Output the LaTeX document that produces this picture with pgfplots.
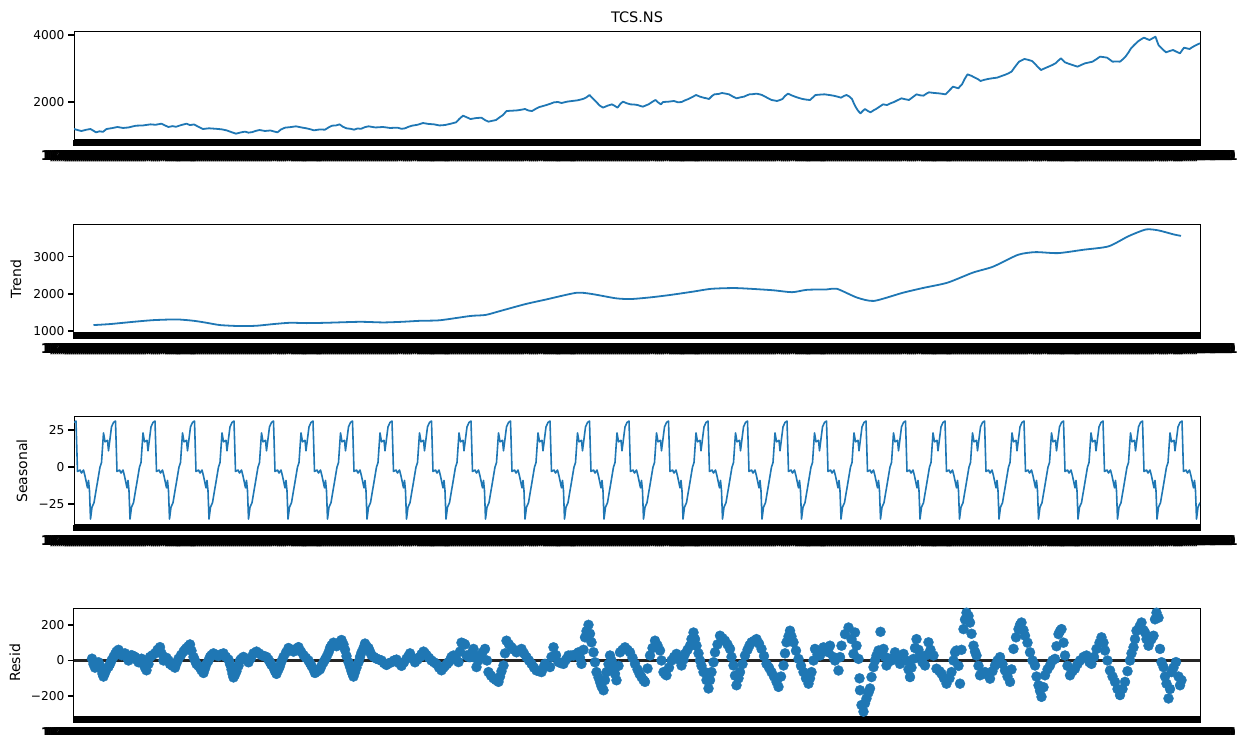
\documentclass[border=0pt]{standalone}
\usepackage{fontspec}
\setmainfont{DejaVu Sans}
\usepackage{pgfplots}
\pgfplotsset{compat=1.18}
\definecolor{mplblue}{HTML}{1F77B4}
\pgfplotsset{
  panel/.style={
    scale only axis, width=1126pt, height=108pt, anchor=south west,
    xmin=0, xmax=2252,
    axis line style={line width=1pt, black},
    tick align=outside, xtick pos=bottom, ytick pos=left,
    xtick={0,4,...,2252},
    major tick length=6pt, minor tick length=6pt,
    every tick/.style={black, line width=1.4pt},
    tick label style={font=\fontsize{12.2}{14}\selectfont},
    xticklabel={\pgfmathtruncatemacro{\mo}{1+mod(\tick/21,12)}\pgfmathtruncatemacro{\yr}{2012+\tick/250}\mo/1/\yr},
    xticklabel style={inner sep=1pt, yshift=-3pt, text=black, font=\fontsize{13.5}{15}\selectfont\bfseries},
    ylabel style={font=\fontsize{14}{16}\selectfont, anchor=center},
    clip=true,
  },
  mplline/.style={mplblue, line width=1.8pt, line join=round, mark=none},
}
\begin{document}
\begin{tikzpicture}
\path[use as bounding box] (0,0) rectangle (1240pt,735pt);

% ---------------- Observed ----------------
\begin{axis}[panel, at={(74pt,595pt)}, ymin=866, ymax=4090,
  ytick={2000,4000}, yticklabels={2000,4000},
  title={TCS.NS}, title style={font=\fontsize{14.5}{16}\selectfont}]
\addplot[mplline] coordinates {
(0,1194)(8,1160)(15,1134)(24,1170)(33,1194)(38,1150)(44,1095)(51,1125)(58,1110)(65,1194)(76,1220)(87,1254)(98,1225)(109,1240)(117,1270)(124,1293)(138,1300)(153,1333)(163,1320)(175,1353)(182,1300)(189,1254)(197,1280)(204,1260)(214,1310)(225,1353)(232,1310)(240,1330)(249,1260)(258,1194)(270,1215)(284,1200)(295,1185)(305,1154)(315,1100)(324,1054)(333,1090)(342,1115)(349,1085)(356,1100)(364,1140)(371,1164)(382,1135)(393,1150)(400,1120)(407,1095)(414,1180)(422,1234)(433,1250)(444,1274)(455,1240)(465,1214)(473,1185)(480,1154)(491,1180)(502,1174)(509,1240)(516,1293)(524,1300)(531,1333)(538,1260)(545,1214)(553,1200)(560,1174)(567,1210)(574,1200)(582,1250)(589,1274)(603,1240)(618,1254)(632,1225)(647,1234)(655,1200)(662,1214)(669,1260)(676,1293)(687,1320)(698,1373)(709,1345)(720,1333)(731,1300)(742,1313)(753,1350)(764,1393)(771,1500)(778,1592)(786,1540)(793,1492)(804,1520)(815,1532)(822,1460)(829,1413)(837,1440)(844,1462)(851,1540)(858,1612)(865,1731)(876,1740)(887,1751)(895,1770)(902,1791)(909,1745)(916,1731)(924,1800)(931,1851)(938,1880)(945,1910)(953,1950)(960,1990)(968,2000)(975,1970)(986,2010)(996,2030)(1007,2050)(1018,2090)(1025,2140)(1031,2209)(1038,2100)(1044,2010)(1051,1900)(1058,1831)(1067,1890)(1076,1930)(1082,1880)(1087,1831)(1093,1950)(1098,2010)(1106,1960)(1113,1930)(1120,1925)(1127,1910)(1133,1880)(1138,1861)(1144,1900)(1149,1930)(1156,2000)(1163,2060)(1168,1990)(1174,1930)(1178,2000)(1189,2010)(1200,2030)(1208,1990)(1215,2000)(1222,2050)(1229,2090)(1237,2150)(1244,2209)(1252,2160)(1259,2129)(1265,2110)(1270,2090)(1276,2180)(1281,2229)(1289,2240)(1296,2269)(1303,2250)(1310,2229)(1318,2160)(1325,2109)(1333,2140)(1340,2160)(1346,2200)(1351,2229)(1358,2235)(1365,2249)(1371,2230)(1376,2209)(1386,2130)(1395,2060)(1401,2045)(1406,2030)(1412,2060)(1417,2090)(1422,2180)(1428,2249)(1435,2200)(1442,2160)(1450,2120)(1457,2090)(1465,2070)(1472,2060)(1478,2140)(1483,2209)(1492,2220)(1501,2229)(1510,2210)(1519,2189)(1527,2160)(1534,2129)(1540,2180)(1545,2209)(1551,2160)(1556,2090)(1560,1950)(1563,1861)(1568,1740)(1573,1662)(1578,1740)(1582,1791)(1588,1730)(1593,1692)(1599,1750)(1604,1791)(1611,1860)(1618,1930)(1626,1910)(1633,1960)(1640,2000)(1648,2060)(1655,2109)(1663,2080)(1670,2060)(1678,2150)(1685,2229)(1692,2200)(1699,2189)(1705,2250)(1710,2289)(1720,2270)(1729,2259)(1736,2245)(1743,2229)(1751,2350)(1758,2458)(1764,2430)(1769,2408)(1772,2470)(1776,2527)(1781,2680)(1787,2826)(1795,2780)(1802,2726)(1808,2680)(1813,2627)(1820,2660)(1828,2687)(1837,2710)(1846,2726)(1854,2770)(1861,2806)(1868,2850)(1875,2905)(1882,3050)(1890,3204)(1896,3250)(1901,3284)(1908,3260)(1916,3224)(1922,3140)(1927,3055)(1931,3000)(1934,2955)(1942,3010)(1949,3055)(1956,3100)(1963,3155)(1969,3240)(1974,3304)(1978,3240)(1982,3184)(1988,3150)(1993,3124)(2000,3090)(2007,3055)(2015,3110)(2022,3155)(2030,3180)(2037,3204)(2045,3280)(2052,3354)(2059,3340)(2066,3324)(2072,3260)(2077,3204)(2085,3210)(2092,3204)(2098,3280)(2103,3354)(2109,3480)(2114,3602)(2121,3710)(2129,3821)(2135,3880)(2140,3920)(2146,3880)(2151,3851)(2157,3900)(2163,3950)(2166,3820)(2169,3701)(2176,3590)(2184,3483)(2191,3520)(2198,3552)(2205,3500)(2212,3453)(2216,3540)(2220,3622)(2226,3600)(2231,3582)(2237,3640)(2242,3682)(2247,3720)(2252,3751)
};
\end{axis}

% ---------------- Trend ----------------
\begin{axis}[panel, at={(74pt,402pt)}, ymin=947, ymax=3853,
  ytick={1000,2000,3000}, yticklabels={1000,2000,3000}, ylabel={Trend},
  ylabel style={at={(axis description cs:-0.0515,0.5)}}]
\addplot[mplline, smooth, tension=0.4] coordinates {
(39,1160)(72,1187)(119,1248)(159,1293)(205,1312)(239,1276)(265,1222)(292,1160)(332,1133)(365,1142)(399,1187)(432,1222)(465,1213)(505,1222)(572,1248)(619,1231)(659,1250)(692,1275)(732,1290)(793,1405)(823,1432)(853,1541)(903,1725)(943,1845)(1004,2027)(1034,2000)(1084,1880)(1114,1861)(1154,1907)(1194,1973)(1240,2064)(1275,2136)(1325,2155)(1396,2099)(1436,2045)(1466,2109)(1506,2120)(1526,2136)(1566,1900)(1600,1810)(1657,2027)(1697,2155)(1747,2301)(1798,2573)(1838,2731)(1888,3051)(1923,3123)(1968,3096)(2019,3187)(2069,3278)(2109,3552)(2144,3733)(2169,3707)(2200,3597)(2214,3560)
};
\end{axis}

% ---------------- Seasonal ----------------
\begin{axis}[panel, at={(74pt,210pt)}, ymin=-39, ymax=33.7,
  ytick={-25,0,25}, yticklabels={−25,0,25}, ylabel={Seasonal},
  ylabel style={at={(axis description cs:-0.0462,0.5)}}]
\addplot[mplline, line width=1.6pt] coordinates {
(0,30)
(4,31)(7,-3)(12,-2)(15,-4)(19,-2)(22,-6)(27,-14)(29,-9)(31,-16)(33,-35)(36,-27)(40,-24)(52,0)(55,3)(59,23)(62,17)(67,18)(69,11)(75,27)(79,30)
(83,31)(86,-3)(91,-2)(94,-4)(98,-2)(101,-6)(106,-14)(108,-9)(110,-16)(112,-35)(115,-27)(119,-24)(131,0)(134,3)(138,23)(141,17)(146,18)(148,11)(154,27)(158,30)
(162,31)(165,-3)(170,-2)(173,-4)(177,-2)(180,-6)(185,-14)(187,-9)(189,-16)(191,-35)(194,-27)(198,-24)(210,0)(213,3)(217,23)(220,17)(225,18)(227,11)(233,27)(237,30)
(241,31)(244,-3)(249,-2)(252,-4)(256,-2)(259,-6)(264,-14)(266,-9)(268,-16)(270,-35)(273,-27)(277,-24)(289,0)(292,3)(296,23)(299,17)(304,18)(306,11)(312,27)(316,30)
(320,31)(323,-3)(328,-2)(331,-4)(335,-2)(338,-6)(343,-14)(345,-9)(347,-16)(349,-35)(352,-27)(356,-24)(368,0)(371,3)(375,23)(378,17)(383,18)(385,11)(391,27)(395,30)
(399,31)(402,-3)(407,-2)(410,-4)(414,-2)(417,-6)(422,-14)(424,-9)(426,-16)(428,-35)(431,-27)(435,-24)(447,0)(450,3)(454,23)(457,17)(462,18)(464,11)(470,27)(474,30)
(478,31)(481,-3)(486,-2)(489,-4)(493,-2)(496,-6)(501,-14)(503,-9)(505,-16)(507,-35)(510,-27)(514,-24)(526,0)(529,3)(533,23)(536,17)(541,18)(543,11)(549,27)(553,30)
(557,31)(560,-3)(565,-2)(568,-4)(572,-2)(575,-6)(580,-14)(582,-9)(584,-16)(586,-35)(589,-27)(593,-24)(605,0)(608,3)(612,23)(615,17)(620,18)(622,11)(628,27)(632,30)
(636,31)(639,-3)(644,-2)(647,-4)(651,-2)(654,-6)(659,-14)(661,-9)(663,-16)(665,-35)(668,-27)(672,-24)(684,0)(687,3)(691,23)(694,17)(699,18)(701,11)(707,27)(711,30)
(715,31)(718,-3)(723,-2)(726,-4)(730,-2)(733,-6)(738,-14)(740,-9)(742,-16)(744,-35)(747,-27)(751,-24)(763,0)(766,3)(770,23)(773,17)(778,18)(780,11)(786,27)(790,30)
(794,31)(797,-3)(802,-2)(805,-4)(809,-2)(812,-6)(817,-14)(819,-9)(821,-16)(823,-35)(826,-27)(830,-24)(842,0)(845,3)(849,23)(852,17)(857,18)(859,11)(865,27)(869,30)
(873,31)(876,-3)(881,-2)(884,-4)(888,-2)(891,-6)(896,-14)(898,-9)(900,-16)(902,-35)(905,-27)(909,-24)(921,0)(924,3)(928,23)(931,17)(936,18)(938,11)(944,27)(948,30)
(952,31)(955,-3)(960,-2)(963,-4)(967,-2)(970,-6)(975,-14)(977,-9)(979,-16)(981,-35)(984,-27)(988,-24)(1000,0)(1003,3)(1007,23)(1010,17)(1015,18)(1017,11)(1023,27)(1027,30)
(1031,31)(1034,-3)(1039,-2)(1042,-4)(1046,-2)(1049,-6)(1054,-14)(1056,-9)(1058,-16)(1060,-35)(1063,-27)(1067,-24)(1079,0)(1082,3)(1086,23)(1089,17)(1094,18)(1096,11)(1102,27)(1106,30)
(1110,31)(1113,-3)(1118,-2)(1121,-4)(1125,-2)(1128,-6)(1133,-14)(1135,-9)(1137,-16)(1139,-35)(1142,-27)(1146,-24)(1158,0)(1161,3)(1165,23)(1168,17)(1173,18)(1175,11)(1181,27)(1185,30)
(1189,31)(1192,-3)(1197,-2)(1200,-4)(1204,-2)(1207,-6)(1212,-14)(1214,-9)(1216,-16)(1218,-35)(1221,-27)(1225,-24)(1237,0)(1240,3)(1244,23)(1247,17)(1252,18)(1254,11)(1260,27)(1264,30)
(1268,31)(1271,-3)(1276,-2)(1279,-4)(1283,-2)(1286,-6)(1291,-14)(1293,-9)(1295,-16)(1297,-35)(1300,-27)(1304,-24)(1316,0)(1319,3)(1323,23)(1326,17)(1331,18)(1333,11)(1339,27)(1343,30)
(1347,31)(1350,-3)(1355,-2)(1358,-4)(1362,-2)(1365,-6)(1370,-14)(1372,-9)(1374,-16)(1376,-35)(1379,-27)(1383,-24)(1395,0)(1398,3)(1402,23)(1405,17)(1410,18)(1412,11)(1418,27)(1422,30)
(1426,31)(1429,-3)(1434,-2)(1437,-4)(1441,-2)(1444,-6)(1449,-14)(1451,-9)(1453,-16)(1455,-35)(1458,-27)(1462,-24)(1474,0)(1477,3)(1481,23)(1484,17)(1489,18)(1491,11)(1497,27)(1501,30)
(1505,31)(1508,-3)(1513,-2)(1516,-4)(1520,-2)(1523,-6)(1528,-14)(1530,-9)(1532,-16)(1534,-35)(1537,-27)(1541,-24)(1553,0)(1556,3)(1560,23)(1563,17)(1568,18)(1570,11)(1576,27)(1580,30)
(1584,31)(1587,-3)(1592,-2)(1595,-4)(1599,-2)(1602,-6)(1607,-14)(1609,-9)(1611,-16)(1613,-35)(1616,-27)(1620,-24)(1632,0)(1635,3)(1639,23)(1642,17)(1647,18)(1649,11)(1655,27)(1659,30)
(1663,31)(1666,-3)(1671,-2)(1674,-4)(1678,-2)(1681,-6)(1686,-14)(1688,-9)(1690,-16)(1692,-35)(1695,-27)(1699,-24)(1711,0)(1714,3)(1718,23)(1721,17)(1726,18)(1728,11)(1734,27)(1738,30)
(1742,31)(1745,-3)(1750,-2)(1753,-4)(1757,-2)(1760,-6)(1765,-14)(1767,-9)(1769,-16)(1771,-35)(1774,-27)(1778,-24)(1790,0)(1793,3)(1797,23)(1800,17)(1805,18)(1807,11)(1813,27)(1817,30)
(1821,31)(1824,-3)(1829,-2)(1832,-4)(1836,-2)(1839,-6)(1844,-14)(1846,-9)(1848,-16)(1850,-35)(1853,-27)(1857,-24)(1869,0)(1872,3)(1876,23)(1879,17)(1884,18)(1886,11)(1892,27)(1896,30)
(1900,31)(1903,-3)(1908,-2)(1911,-4)(1915,-2)(1918,-6)(1923,-14)(1925,-9)(1927,-16)(1929,-35)(1932,-27)(1936,-24)(1948,0)(1951,3)(1955,23)(1958,17)(1963,18)(1965,11)(1971,27)(1975,30)
(1979,31)(1982,-3)(1987,-2)(1990,-4)(1994,-2)(1997,-6)(2002,-14)(2004,-9)(2006,-16)(2008,-35)(2011,-27)(2015,-24)(2027,0)(2030,3)(2034,23)(2037,17)(2042,18)(2044,11)(2050,27)(2054,30)
(2058,31)(2061,-3)(2066,-2)(2069,-4)(2073,-2)(2076,-6)(2081,-14)(2083,-9)(2085,-16)(2087,-35)(2090,-27)(2094,-24)(2106,0)(2109,3)(2113,23)(2116,17)(2121,18)(2123,11)(2129,27)(2133,30)
(2137,31)(2140,-3)(2145,-2)(2148,-4)(2152,-2)(2155,-6)(2160,-14)(2162,-9)(2164,-16)(2166,-35)(2169,-27)(2173,-24)(2185,0)(2188,3)(2192,23)(2195,17)(2200,18)(2202,11)(2208,27)(2212,30)
(2216,31)(2219,-3)(2224,-2)(2227,-4)(2231,-2)(2234,-6)(2239,-14)(2241,-9)(2243,-16)(2245,-35)(2248,-27)(2252,-24)
};
\end{axis}

% ---------------- Residual ----------------
\begin{axis}[panel, at={(74pt,18pt)}, ymin=-317, ymax=289,
  ytick={-200,0,200}, yticklabels={−200,0,200}, ylabel={Resid},
  ylabel style={at={(axis description cs:-0.0524,0.5)}}]
\addplot[black!85, line width=2.2pt, forget plot] coordinates {(0,0)(2252,0)};
\addplot[only marks, mark=*, mark size=5pt, mplblue, mark options={draw=mplblue, fill=mplblue}] coordinates {
(36,10)(39,-20)(42,-40)(45,-25)(49,-10)(52,-30)(55,-50)(57,-75)(59,-90)(62,-70)(65,-50)(69,-35)(72,-20)(75,0)(79,20)(82,35)(85,50)(89,60)(92,45)(95,30)(99,35)(102,40)(105,20)(109,0)(112,15)(115,30)(119,25)(122,20)(125,5)(129,-10)(132,0)(135,10)(139,-20)(142,-40)(145,-55)(149,-20)(152,20)(157,30)(162,40)(167,60)(172,75)(175,40)(179,0)(182,10)(185,15)(189,0)(192,-20)(197,-30)(202,-40)(205,-15)(209,10)(214,30)(219,50)(222,60)(225,70)(229,80)(232,90)(235,55)(239,20)(242,0)(245,-20)(249,-30)(252,-40)(255,-55)(259,-70)(262,-45)(265,-20)(269,0)(272,20)(275,30)(279,40)(284,30)(289,25)(294,35)(299,40)(304,20)(309,5)(312,-20)(315,-50)(317,-75)(319,-95)(322,-80)(325,-60)(329,-30)(332,0)(335,10)(339,20)(344,5)(349,-10)(354,15)(359,40)(365,50)(370,40)(375,30)(380,25)(385,20)(389,5)(392,-10)(395,-25)(399,-40)(402,-60)(405,-75)(409,-50)(412,-30)(415,-5)(419,20)(424,45)(429,70)(434,60)(439,50)(444,65)(449,75)(454,50)(459,30)(464,15)(469,0)(472,-15)(475,-30)(479,-50)(482,-70)(487,-60)(492,-50)(495,-30)(499,-10)(502,5)(505,20)(509,45)(512,70)(515,85)(519,100)(522,90)(525,80)(530,100)(535,115)(539,90)(542,60)(545,25)(549,-10)(552,-35)(555,-60)(557,-75)(559,-90)(562,-65)(565,-40)(569,-10)(572,20)(575,45)(579,70)(582,95)(585,80)(589,70)(592,50)(595,30)(600,20)(605,10)(610,5)(615,0)(620,-15)(625,-25)(630,-15)(635,-10)(640,0)(645,5)(650,-15)(655,-30)(660,-10)(665,10)(669,25)(672,40)(677,15)(682,-10)(687,5)(692,20)(695,35)(699,50)(702,40)(705,30)(710,15)(715,0)(720,-10)(725,-20)(730,-40)(735,-55)(739,-40)(742,-30)(746,-20)(749,-10)
(752,0)(755,20)(759,28)(764,10)(769,-9)(772,50)(775,100)(779,95)(782,90)(785,28)(789,20)(792,19)(795,40)(799,65)(802,15)(805,-37)(809,0)(812,28)(817,45)(822,65)(826,0)(829,-65)(834,-85)(839,-100)(844,-110)(849,-120)(852,-90)(855,-60)(859,-28)(862,40)(865,111)(870,90)(875,74)(880,60)(885,46)(890,55)(895,65)(900,40)(905,19)(910,0)(915,-19)(920,-40)(925,-56)(930,-60)(935,-65)(939,-40)(942,-19)(947,-30)(952,-37)(955,20)(959,74)(964,30)(969,-9)(974,-15)(979,-19)(984,5)(989,28)(994,28)(999,28)(1004,35)(1009,46)(1012,15)(1015,-19)(1019,60)(1022,130)(1025,165)(1029,200)(1032,150)(1035,102)(1039,46)(1042,-10)(1045,-65)(1049,-95)(1052,-120)(1055,-145)(1059,-167)(1062,-110)(1065,-65)(1069,-20)(1072,28)(1075,0)(1079,-37)(1082,-75)(1085,-111)(1089,-30)(1092,46)(1097,60)(1102,74)(1107,60)(1112,46)(1117,15)(1122,-19)(1127,-50)(1131,-75)(1135,-93)(1139,-110)(1142,-120)(1147,-45)(1152,28)(1157,70)(1162,111)(1167,85)(1172,56)(1175,0)(1179,-65)(1182,-75)(1185,-83)(1190,-40)(1195,0)(1200,20)(1205,37)(1210,5)(1215,-28)(1219,5)(1222,37)(1227,60)(1232,83)(1235,120)(1239,157)(1242,120)(1245,83)(1249,40)(1252,0)(1255,-30)(1259,-65)(1262,-65)(1265,-110)(1269,-157)(1272,-110)(1275,-65)(1279,-10)(1282,46)(1287,90)(1292,139)(1297,125)(1302,111)(1307,90)(1312,65)(1315,20)(1319,-28)(1322,-85)(1325,-139)(1329,-100)(1332,-65)(1337,-20)(1342,28)(1347,60)(1351,85)(1355,102)(1360,110)(1365,120)(1370,95)(1375,65)(1380,25)(1385,-19)(1390,-40)(1395,-65)(1400,-90)(1405,-120)(1409,-148)(1414,-90)(1419,-28)(1422,40)(1425,102)(1429,135)(1432,167)(1435,135)(1439,102)(1444,55)(1449,9)(1454,-30)(1459,-65)(1464,-100)(1469,-130)(1472,-100)(1475,-65)(1479,0)(1482,65)(1487,35)
(1492,28)(1499,74)(1502,65)(1509,46)(1512,83)(1519,19)(1522,0)(1529,-56)(1532,19)(1535,83)(1542,148)(1549,185)(1555,120)(1559,37)(1562,157)(1565,83)(1569,9)(1571,-100)(1572,-167)(1575,-250)(1579,-287)(1582,-240)(1585,-213)(1589,-180)(1592,-157)(1595,-93)(1599,-37)(1602,0)(1605,28)(1609,56)(1613,161)(1615,40)(1619,65)(1622,20)(1625,-28)(1631,10)(1635,0)(1642,46)(1647,20)(1652,-19)(1659,37)(1665,0)(1669,-50)(1672,-93)(1675,-40)(1679,9)(1682,70)(1685,120)(1689,60)(1692,28)(1697,-10)(1702,-28)(1705,30)(1709,102)(1713,60)(1719,28)(1725,-46)(1731,-60)(1735,-74)(1740,-100)(1745,-130)(1751,-100)(1755,-65)(1759,0)(1762,46)(1765,56)(1769,-30)(1772,-130)(1775,60)(1779,176)(1782,230)(1785,268)(1789,250)(1792,213)(1795,150)(1799,83)(1802,50)(1805,28)(1809,-30)(1812,-83)(1817,-70)(1822,-65)(1827,-80)(1832,-102)(1837,-60)(1842,-28)(1847,0)(1852,19)(1857,-20)(1862,-56)(1867,-90)(1872,-120)(1875,-50)(1879,65)(1884,130)(1889,176)(1892,200)(1895,213)(1899,170)(1902,139)(1907,100)(1912,46)(1917,0)(1922,-28)(1925,-90)(1929,-139)(1932,-170)(1935,-204)(1939,-150)(1942,-83)(1947,-50)(1952,-28)(1957,0)(1962,9)(1965,80)(1969,148)(1972,165)(1975,176)(1979,100)(1982,28)(1987,-30)(1992,-83)(1997,-60)(2002,-46)(2007,-20)(2012,0)(2019,20)(2025,28)(2031,-10)(2035,-19)(2040,20)(2045,65)(2051,100)(2055,130)(2059,100)(2062,56)(2067,0)(2072,-56)(2077,-90)(2082,-120)(2087,-160)(2092,-194)(2097,-160)(2102,-120)(2107,-60)(2112,0)(2115,40)(2119,74)(2122,120)(2125,167)(2131,190)(2135,213)(2139,170)(2142,157)(2145,120)(2149,83)(2152,110)(2155,120)(2159,139)(2162,231)(2165,268)(2169,240)(2172,65)(2175,-10)(2179,-37)(2182,-90)(2185,-130)(2189,-213)(2192,-160)(2195,-65)(2199,-40)(2204,-9)(2209,-90)(2212,-139)(2215,-110)
};
\end{axis}
\end{tikzpicture}
\end{document}
